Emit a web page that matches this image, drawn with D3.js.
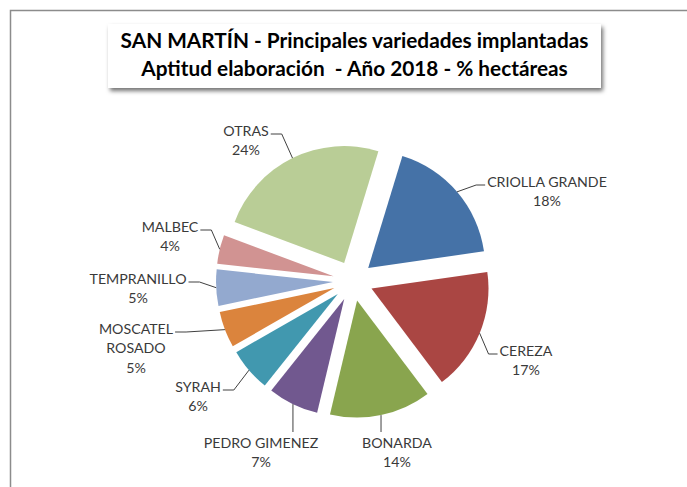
<!DOCTYPE html>
<html>
<head>
<meta charset="utf-8">
<script src="https://cdn.jsdelivr.net/npm/d3@7"></script>
<style>
  body { margin: 0; background: #fff; }
  svg { display: block; }
</style>
</head>
<body>
<div id="chart"></div>
<script>
// data
const categories = ["CRIOLLA GRANDE", "CEREZA", "BONARDA", "PEDRO GIMENEZ", "SYRAH", "MOSCATEL ROSADO", "TEMPRANILLO", "MALBEC", "OTRAS"];
const shares = [18, 17, 14, 7, 6, 5, 5, 4, 24];
const titleLines = ["SAN MARTÍN - Principales variedades implantadas", "Aptitud elaboración  - Año 2018 - % hectáreas"];

document.addEventListener('DOMContentLoaded', function() {
    const width = 687, height = 487;
    const cx = 353, cy = 281;          // pie centre
    const radius = 117, explode = 20;  // every slice pulled out by the same amount
    const firstSliceDeg = 17;
    const lineGap = 19.5;

    const colors = d3.scaleOrdinal()
        .domain(categories)
        .range(["#4572A7", "#AA4643", "#89A54E", "#71588F", "#4198AF", "#DB843D", "#93A9CF", "#D19392", "#B9CD96"]);

    // where each label block sits, relative to pie centre (x centre, first line y), and where the leader attaches
    const labelLayout = {
        "CRIOLLA GRANDE":  { dx: 194,  dy: -99, side: "left" },
        "CEREZA":          { dx: 173,  dy: 70,  side: "left" },
        "BONARDA":         { dx: 44,   dy: 162, side: "top" },
        "PEDRO GIMENEZ":   { dx: -92,  dy: 162, side: "top" },
        "SYRAH":           { dx: -155, dy: 106, side: "right" },
        "MOSCATEL ROSADO": { dx: -217, dy: 48,  side: "right", lines: ["MOSCATEL", "ROSADO"] },
        "TEMPRANILLO":     { dx: -215, dy: -2,  side: "right" },
        "MALBEC":          { dx: -183, dy: -54, side: "right" },
        "OTRAS":           { dx: -107, dy: -150, side: "right" }
    };

    const svg = d3.select('#chart').append('svg')
        .attr('width', width)
        .attr('height', height);

    const defs = svg.append('defs');
    const shadow = defs.append('filter').attr('id', 'shadow')
        .attr('x', '-10%').attr('y', '-30%').attr('width', '125%').attr('height', '170%');
    shadow.append('feDropShadow')
        .attr('dx', 2).attr('dy', 3).attr('stdDeviation', 2.2)
        .attr('flood-color', '#000').attr('flood-opacity', 0.55);

    // chart frame (runs off the right and bottom of the picture)
    svg.append('rect')
        .attr('x', 10.5).attr('y', 10.5)
        .attr('width', 700).attr('height', 500)
        .attr('fill', '#fff')
        .attr('stroke', '#8c8c8c')
        .attr('stroke-width', 1.5);

    // title box
    svg.append('rect')
        .attr('x', 108).attr('y', 24)
        .attr('width', 493).attr('height', 64)
        .attr('fill', '#fff')
        .attr('filter', 'url(#shadow)');

    svg.append('text')
        .attr('x', 354.5)
        .attr('y', 41)
        .attr('text-anchor', 'middle')
        .style('font-family', 'Lato, "Liberation Sans", sans-serif')
        .style('font-weight', 'bold')
        .style('font-size', '20.8px')
        .style('fill', '#000')
        .selectAll('tspan')
        .data(titleLines)
        .enter().append('tspan')
        .attr('x', 354.5)
        .attr('dy', (d, i) => i === 0 ? '0.35em' : '28px')
        .style('white-space', 'pre')
        .text(d => d);

    const data = categories.map((c, i) => ({ name: c, value: shares[i] }));

    const pie = d3.pie()
        .sort(null)
        .value(d => d.value)
        .startAngle(firstSliceDeg * Math.PI / 180)
        .endAngle((firstSliceDeg + 360) * Math.PI / 180);

    const arc = d3.arc().innerRadius(0).outerRadius(radius);
    const arcs = pie(data);

    const dir = a => [Math.sin(a), -Math.cos(a)];
    const mid = d => (d.startAngle + d.endAngle) / 2;

    const g = svg.append('g').attr('transform', `translate(${cx},${cy})`);

    g.selectAll('.slice')
        .data(arcs)
        .enter().append('path')
        .attr('class', 'slice')
        .attr('d', arc)
        .attr('fill', d => colors(d.data.name))
        .attr('transform', d => {
            const [ux, uy] = dir(mid(d));
            return `translate(${ux * explode},${uy * explode})`;
        });

    // labels
    const labels = g.selectAll('.label')
        .data(arcs)
        .enter().append('g')
        .attr('class', 'label');

    labels.each(function(d) {
        const lay = labelLayout[d.data.name];
        const lines = (lay.lines || [d.data.name]).concat([d.data.value + '%']);
        const sel = d3.select(this);

        const txt = sel.append('text')
            .attr('text-anchor', 'middle')
            .style('font-family', 'Lato, "Liberation Sans", sans-serif')
            .style('font-size', '14.2px')
            .style('fill', '#3a3a3a');
        lines.forEach((l, i) => {
            txt.append('tspan')
                .attr('x', lay.dx)
                .attr('y', lay.dy + i * lineGap)
                .attr('dy', '0.35em')
                .text(l);
        });

        const firstW = txt.select('tspan').node().getComputedTextLength();
        const a = mid(d);
        const [ux, uy] = dir(a);
        const sx = ux * (explode + radius), sy = uy * (explode + radius);
        let pts;
        if (lay.side === 'top') {
            pts = [[sx, sy], [sx, lay.dy - 11]];
        } else if (lay.side === 'left') {
            const ex = lay.dx - firstW / 2 - 2, ey = lay.dy + 3;
            pts = [[sx, sy], [ex - 9, ey], [ex, ey]];
        } else {
            const ex = lay.dx + firstW / 2 + 2, ey = lay.dy + 3;
            pts = [[sx, sy], [ex + 11, ey], [ex, ey]];
        }
        sel.append('path')
            .attr('d', d3.line()(pts))
            .attr('fill', 'none')
            .attr('stroke', '#404040')
            .attr('stroke-width', 1);
    });
});
</script>
</body>
</html>
